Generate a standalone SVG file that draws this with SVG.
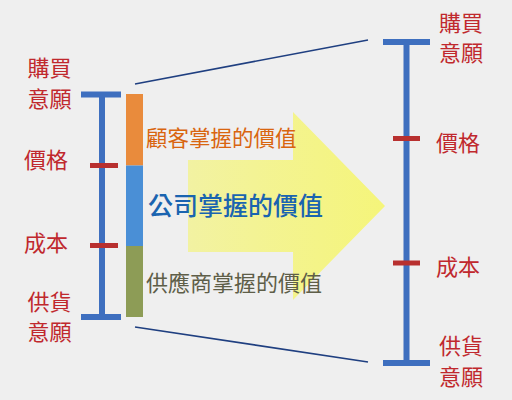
<svg xmlns="http://www.w3.org/2000/svg" width="512" height="400" viewBox="0 0 512 400">
<style>
.lbl{font-family:"Noto Sans CJK TC","Noto Sans CJK SC",sans-serif;font-size:22px;fill:#c0282d;text-anchor:middle}
.bar{stroke:#3e6fbf;stroke-width:6;fill:none}
.tick{stroke:#b8302f;stroke-width:5;fill:none}
.conn{stroke:#1f3f80;stroke-width:1.6;fill:none}
.mid{font-family:"Noto Sans CJK TC","Noto Sans CJK SC",sans-serif}
</style>
<defs>
<linearGradient id="yg" x1="188" y1="0" x2="385" y2="0" gradientUnits="userSpaceOnUse">
<stop offset="0" stop-color="#f2f2a2"/>
<stop offset="1" stop-color="#f5f57a"/>
</linearGradient>
</defs>
<rect width="512" height="400" fill="#efefef"/>
<g id="arrow">
<polygon points="188,160 293,160 293,112 385,206 293,300 293,252 188,252" fill="url(#yg)"/>
</g>
<g id="connectors">
<line class="conn" x1="135" y1="84" x2="368" y2="40"/>
<line class="conn" x1="135" y1="327" x2="368" y2="362"/>
</g>
<g id="left-scale">
<line class="bar" x1="102" y1="94.5" x2="102" y2="317"/>
<line class="bar" x1="81" y1="94.5" x2="121" y2="94.5"/>
<line class="bar" x1="81" y1="317" x2="121" y2="317"/>
<line class="tick" x1="90" y1="165.5" x2="118" y2="165.5"/>
<line class="tick" x1="90" y1="245.5" x2="118" y2="245.5"/>
</g>
<g id="value-bar">
<rect x="126" y="94" width="17" height="71.5" fill="#e98b3c"/>
<rect x="126" y="165.5" width="17" height="80.5" fill="#4a8fd6"/>
<rect x="126" y="246" width="17" height="71" fill="#8d9c56"/>
</g>
<g id="left-labels">
<text class="lbl" x="49.5" y="76">購買</text>
<text class="lbl" x="49.5" y="107">意願</text>
<text class="lbl" x="46" y="168">價格</text>
<text class="lbl" x="46" y="251">成本</text>
<text class="lbl" x="49.5" y="310">供貨</text>
<text class="lbl" x="49.5" y="340">意願</text>
</g>
<g id="mid-labels">
<text class="mid" x="146" y="146" font-size="21.5" fill="#d9650f">顧客掌握的價值</text>
<text class="mid" x="148" y="215" font-size="25" font-weight="500" fill="#1a64b0">公司掌握的價值</text>
<text class="mid" x="146" y="291" font-size="22" fill="#5e5e48">供應商掌握的價值</text>
</g>
<g id="right-scale">
<line class="bar" x1="406.5" y1="42" x2="406.5" y2="363"/>
<line class="bar" x1="383" y1="42" x2="430" y2="42"/>
<line class="bar" x1="383" y1="363" x2="430" y2="363"/>
<line class="tick" x1="393" y1="138.5" x2="420" y2="138.5"/>
<line class="tick" x1="393" y1="263" x2="420" y2="263"/>
</g>
<g id="right-labels">
<text class="lbl" x="461" y="31">購買</text>
<text class="lbl" x="461" y="61">意願</text>
<text class="lbl" x="458" y="151">價格</text>
<text class="lbl" x="458" y="275">成本</text>
<text class="lbl" x="461" y="354">供貨</text>
<text class="lbl" x="461" y="385">意願</text>
</g>
</svg>
